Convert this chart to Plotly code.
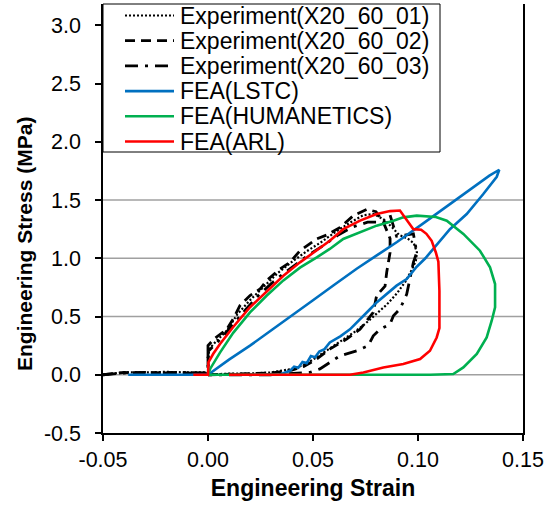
import plotly.graph_objects as go

# ---------------- data ----------------
series_names = ["Experiment(X20_60_01)", "Experiment(X20_60_02)", "Experiment(X20_60_03)",
                "FEA(LSTC)", "FEA(HUMANETICS)", "FEA(ARL)"]

exp01_strain = [-0.05, -0.045, -0.04, -0.03, -0.02, -0.01, 0.0,
                0.0005, 0.004, 0.009, 0.014, 0.02, 0.026, 0.033, 0.04, 0.047, 0.054, 0.061, 0.068,
                0.074, 0.079, 0.084, 0.088, 0.091, 0.095, 0.098, 0.0995, 0.099, 0.097, 0.094, 0.09,
                0.085, 0.08, 0.075, 0.07, 0.065, 0.06, 0.055, 0.05, 0.045, 0.04, 0.03, 0.02, 0.01, 0.0]
exp01_stress = [0.0, 0.01, 0.02, 0.02, 0.025, 0.02, 0.02,
                0.22, 0.29, 0.38, 0.52, 0.64, 0.75, 0.87, 0.97, 1.06, 1.14, 1.23, 1.31,
                1.37, 1.38, 1.33, 1.26, 1.20, 1.17, 1.13, 1.05, 0.98, 0.90, 0.80, 0.70,
                0.60, 0.52, 0.44, 0.37, 0.31, 0.25, 0.19, 0.13, 0.08, 0.05, 0.02, 0.01, 0.01, 0.0]

exp02_strain = [-0.05, -0.04, -0.03, -0.02, -0.01, 0.0,
                0.0, 0.003, 0.0089, 0.012, 0.0152, 0.02, 0.0248, 0.028, 0.0343, 0.039, 0.0438,
                0.0518, 0.0565, 0.0629, 0.0692, 0.0756, 0.080, 0.0835, 0.0867, 0.0867, 0.0851,
                0.0843, 0.0803, 0.0795, 0.0787, 0.0724, 0.066, 0.058, 0.0518, 0.0454, 0.04, 0.03,
                0.02, 0.01, 0.0]
exp02_stress = [0.0, 0.02, 0.015, 0.02, 0.015, 0.01,
                0.25, 0.31, 0.39, 0.48, 0.593, 0.68, 0.736, 0.81, 0.908, 0.965, 1.065,
                1.166, 1.20, 1.265, 1.366, 1.42, 1.40, 1.31, 1.17, 1.05, 0.88,
                0.76, 0.68, 0.59, 0.535, 0.39, 0.306, 0.22, 0.135, 0.07, 0.04, 0.015,
                0.01, 0.005, 0.0]

exp03_strain = [-0.05, -0.04, -0.03, -0.02, -0.01, 0.0,
                0.0, 0.004, 0.008, 0.013, 0.018, 0.024, 0.03, 0.036, 0.042, 0.048, 0.055, 0.062,
                0.069, 0.076, 0.0835, 0.0867, 0.0898, 0.0978, 0.0994, 0.0978, 0.0946, 0.0914,
                0.0883, 0.0867, 0.0819, 0.0787, 0.0763, 0.0708, 0.0629, 0.058, 0.0533, 0.0486,
                0.04, 0.03, 0.0]
exp03_stress = [0.0, 0.015, 0.02, 0.015, 0.02, 0.015,
                0.20, 0.27, 0.35, 0.46, 0.56, 0.68, 0.78, 0.87, 0.95, 1.03, 1.11, 1.20,
                1.27, 1.31, 1.31, 1.37, 1.19, 1.21, 1.05, 0.965, 0.69, 0.564,
                0.507, 0.435, 0.39, 0.335, 0.25, 0.206, 0.163, 0.106, 0.05, 0.02,
                0.01, 0.0, 0.0]

lstc_strain = [-0.038, -0.02, 0.0, 0.01, 0.02, 0.03, 0.039, 0.05, 0.06, 0.0708, 0.08, 0.09,
               0.1025, 0.1152, 0.125, 0.134, 0.1387, 0.1375, 0.131, 0.1232, 0.1152, 0.109,
               0.1035, 0.099, 0.0946, 0.0898, 0.085, 0.0803, 0.077, 0.074, 0.071, 0.0676,
               0.063, 0.058, 0.0555, 0.053, 0.051, 0.049, 0.047, 0.045, 0.043, 0.041, 0.039,
               0.036, 0.034, 0.02]
lstc_stress = [0.0, 0.0, 0.0, 0.13, 0.25, 0.38, 0.50, 0.64, 0.77, 0.91, 1.02, 1.14,
               1.30, 1.466, 1.60, 1.71, 1.76, 1.70, 1.55, 1.38, 1.25, 1.12,
               1.00, 0.92, 0.822, 0.765, 0.69, 0.621, 0.56, 0.507, 0.45, 0.39,
               0.33, 0.277, 0.22, 0.20, 0.15, 0.16, 0.10, 0.11, 0.06, 0.07, 0.034,
               0.01, 0.0, 0.0]

hum_strain = [0.0, 0.001, 0.0057, 0.012, 0.02, 0.028, 0.0359, 0.0438, 0.0518, 0.058,
              0.0644, 0.0724, 0.0803, 0.0883, 0.093, 0.0994, 0.104, 0.1085, 0.1137, 0.1216,
              0.1295, 0.1343, 0.1367, 0.1367, 0.1351, 0.1327, 0.128, 0.1216, 0.1168, 0.1057,
              0.08, 0.04, 0.0]
hum_stress = [0.0, 0.05, 0.19, 0.36, 0.535, 0.68, 0.81, 0.92, 1.008, 1.08,
              1.166, 1.222, 1.28, 1.323, 1.351, 1.366, 1.362, 1.355, 1.323, 1.209,
              1.065, 0.922, 0.779, 0.578, 0.464, 0.32, 0.178, 0.063, 0.006, 0.0,
              0.0, 0.0, 0.0]

arl_strain = [-0.007, 0.0, 0.0002, 0.0025, 0.0057, 0.012, 0.02, 0.028, 0.0359, 0.0438,
              0.0518, 0.058, 0.0644, 0.0724, 0.0803, 0.0867, 0.0914, 0.0946, 0.0978, 0.1015,
              0.104, 0.1065, 0.1085, 0.1097, 0.1102, 0.1102, 0.1089, 0.1057, 0.101, 0.093,
              0.0835, 0.074, 0.0676, 0.04, 0.01]
arl_stress = [0.0, 0.0, 0.106, 0.18, 0.264, 0.41, 0.58, 0.72, 0.85, 0.965,
              1.07, 1.15, 1.25, 1.323, 1.38, 1.405, 1.41, 1.33, 1.25, 1.245,
              1.21, 1.15, 1.05, 0.97, 0.72, 0.40, 0.32, 0.206, 0.135, 0.092,
              0.063, 0.02, 0.0, 0.0, 0.0]

x_ticks = [-0.05, 0.0, 0.05, 0.10, 0.15]
x_tick_text = ["-0.05", "0.00", "0.05", "0.10", "0.15"]
y_ticks = [-0.5, 0.0, 0.5, 1.0, 1.5, 2.0, 2.5, 3.0]
y_tick_text = ["-0.5", "0.0", "0.5", "1.0", "1.5", "2.0", "2.5", "3.0"]
y_grid = [0.0, 0.5, 1.0, 1.5]

x_title = "Engineering Strain"
y_title = "Engineering Stress (MPa)"

# ---------------- styles ----------------
BLUE, GREEN, RED = "#0070C0", "#00B050", "#FF0000"
styles = [
    dict(color="black", width=2.2, dash="2px,2px"),
    dict(color="black", width=2.8, dash="10px,6px"),
    dict(color="black", width=2.8, dash="13px,7px,3px,7px"),
    dict(color=BLUE, width=2.6, dash="solid"),
    dict(color=GREEN, width=2.6, dash="solid"),
    dict(color=RED, width=2.6, dash="solid"),
]
data = [(exp01_strain, exp01_stress), (exp02_strain, exp02_stress), (exp03_strain, exp03_stress),
        (lstc_strain, lstc_stress), (hum_strain, hum_stress), (arl_strain, arl_stress)]

FONT = "Arial, Liberation Sans, sans-serif"
W, H = 548, 509
L, R, T, B = 103, 25, 4, 76

fig = go.Figure()
for (xs, ys), name, st in zip(data, series_names, styles):
    fig.add_trace(go.Scatter(x=xs, y=ys, mode="lines", name=name, line=st,
                             showlegend=False))

def paper_x(px):
    return (px - L) / (W - L - R)

def paper_y(py):
    return (H - B - py) / (H - T - B)

shapes = []
# horizontal gridlines (only the visible ones in the reference)
for gy in y_grid:
    shapes.append(dict(type="line", xref="paper", yref="y", x0=0, x1=1, y0=gy, y1=gy,
                       line=dict(color="#a0a0a0", width=1.6), layer="below"))
# legend box, drawn like the reference (boxed, top-left over the plot)
shapes.append(dict(type="rect", xref="paper", yref="paper",
                   x0=paper_x(103), x1=paper_x(440), y0=paper_y(152), y1=paper_y(4),
                   line=dict(color="black", width=1), fillcolor="white", layer="above"))
annotations = []
for i, (name, st) in enumerate(zip(series_names, styles)):
    yc = 15.5 + 25.2 * i
    shapes.append(dict(type="line", xref="paper", yref="paper",
                       x0=paper_x(125), x1=paper_x(174), y0=paper_y(yc), y1=paper_y(yc),
                       line=dict(color=st["color"], width=st["width"], dash=st["dash"]),
                       layer="above"))
    annotations.append(dict(xref="paper", yref="paper", x=paper_x(178), y=paper_y(yc),
                            text=name, showarrow=False, xanchor="left", yanchor="middle",
                            font=dict(family=FONT, size=23, color="black")))
# y-axis title
annotations.append(dict(xref="paper", yref="paper", x=paper_x(25), y=paper_y(244),
                        text="<b>" + y_title + "</b>", showarrow=False, textangle=-90,
                        xanchor="center", yanchor="middle",
                        font=dict(family=FONT, size=21, color="black")))

fig.update_layout(
    width=W, height=H,
    margin=dict(l=L, r=R, t=T, b=B, pad=0),
    paper_bgcolor="white", plot_bgcolor="white",
    font=dict(family=FONT, size=21, color="black"),
    shapes=shapes, annotations=annotations,
    showlegend=False,
)
fig.update_xaxes(
    range=[-0.05, 0.15], tickvals=x_ticks, ticktext=x_tick_text,
    showgrid=False, zeroline=False,
    showline=True, linecolor="black", linewidth=1.5, mirror=False,
    ticks="outside", ticklen=6, tickwidth=1.5, tickcolor="black",
    tickfont=dict(family=FONT, size=21.5, color="black"),
    title=dict(text="<b>" + x_title + "</b>", font=dict(family=FONT, size=23, color="black"),
               standoff=9),
)
fig.update_yaxes(
    range=[-0.5, 3.183], tickvals=y_ticks, ticktext=y_tick_text,
    showgrid=False, zeroline=False,
    showline=True, linecolor="black", linewidth=1.5, mirror=True,
    ticks="outside", ticklen=6, tickwidth=1.5, tickcolor="black",
    tickfont=dict(family=FONT, size=21.5, color="black"),
    ticklabelstandoff=10,
)

fig.write_html("out.html")
